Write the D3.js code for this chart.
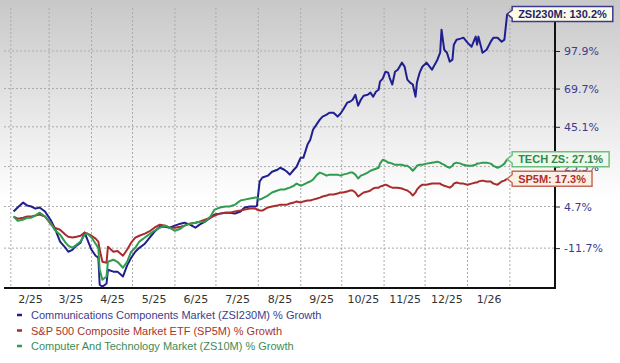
<!DOCTYPE html>
<html>
<head>
<meta charset="utf-8">
<script src="https://cdn.jsdelivr.net/npm/d3@7"></script>
<style>
body { margin: 0; background: #fff; }
svg { display: block; }
</style>
</head>
<body>
<svg width="620" height="363"></svg>
<script>
// dates of the plotted points
const dates = [
"2025-02-03","2025-02-06","2025-02-10","2025-02-13","2025-02-16","2025-02-19","2025-02-22","2025-02-26",
"2025-03-02","2025-03-05","2025-03-09","2025-03-13","2025-03-15","2025-03-18","2025-03-21","2025-03-24","2025-03-27","2025-03-29",
"2025-04-01","2025-04-04","2025-04-06","2025-04-07","2025-04-09","2025-04-12","2025-04-13","2025-04-17","2025-04-20","2025-04-24",
"2025-04-27","2025-04-30","2025-05-03","2025-05-06","2025-05-10","2025-05-14","2025-05-17","2025-05-21","2025-05-25","2025-05-28",
"2025-06-01","2025-06-05","2025-06-08","2025-06-12","2025-06-16","2025-06-19","2025-06-23","2025-06-27","2025-06-30","2025-07-04",
"2025-07-08","2025-07-11","2025-07-15","2025-07-19","2025-07-22","2025-07-26","2025-07-30","2025-07-31","2025-08-02","2025-08-04",
"2025-08-08","2025-08-11","2025-08-15","2025-08-17","2025-08-20","2025-08-22","2025-08-24","2025-08-27","2025-08-29","2025-09-01",
"2025-09-03","2025-09-06","2025-09-08","2025-09-10","2025-09-13","2025-09-15","2025-09-17","2025-09-20","2025-09-22","2025-09-25",
"2025-09-28","2025-09-30","2025-10-02","2025-10-05","2025-10-07","2025-10-09","2025-10-11","2025-10-13","2025-10-15","2025-10-17",
"2025-10-20","2025-10-22","2025-10-24","2025-10-26","2025-10-28","2025-10-29","2025-10-31","2025-11-02","2025-11-04","2025-11-05",
"2025-11-07","2025-11-09","2025-11-11","2025-11-14","2025-11-16","2025-11-18","2025-11-20","2025-11-22","2025-11-24","2025-11-25",
"2025-11-27","2025-11-29","2025-12-02","2025-12-06","2025-12-10","2025-12-12","2025-12-13","2025-12-15","2025-12-17","2025-12-19",
"2025-12-21","2025-12-22","2025-12-24","2025-12-27","2025-12-29","2026-01-01","2026-01-04","2026-01-07","2026-01-08","2026-01-09",
"2026-01-12","2026-01-15","2026-01-18","2026-01-20","2026-01-23","2026-01-26","2026-01-28","2026-01-30"
];

// % growth, Communications Components Market (ZSI230M)
const zsi230m = [
2.6,4.3,6.4,5.1,4.7,3.8,4.3,2.6,
-0.8,-4.0,-9.3,-11.6,-13.0,-12.3,-10.8,-9.7,-5.9,-8.6,
-12.3,-14.4,-15.1,-24.0,-24.6,-23.6,-19.2,-19.8,-19.8,-21.4,
-17.8,-15.1,-13.0,-11.6,-10.1,-7.5,-5.6,-3.6,-3.6,-4.0,
-3.2,-2.4,-2.0,-2.8,-4.0,-2.8,-1.6,0.0,1.3,1.7,
2.1,2.1,1.7,2.6,4.3,4.7,4.7,5.1,16.0,17.9,
18.8,20.7,21.7,22.7,21.7,20.7,19.3,21.7,23.2,27.9,
27.9,34.9,37.6,43.4,47.0,49.4,51.3,52.5,53.7,53.7,
51.3,53.1,55.6,60.2,60.8,62.1,65.5,58.2,62.1,64.8,
65.5,66.9,64.1,67.5,68.9,74.6,76.7,81.8,81.1,77.5,
72.5,81.8,83.3,88.7,85.6,76.0,73.9,72.5,64.1,73.9,
81.1,85.6,88.7,83.3,91.0,96.5,115.9,98.9,96.5,89.5,
91.0,103.1,107.3,108.2,109.0,104.8,101.4,109.9,103.1,109.9,
96.5,98.9,105.6,109.0,109.0,105.6,107.3,130.2
];

// % growth, S&P 500 Composite Market ETF (SP5M)
const sp5m = [
0.5,-0.4,0.0,0.5,0.5,0.9,1.3,0.5,
-2.4,-4.0,-4.8,-6.7,-7.5,-7.8,-7.5,-7.1,-5.9,-6.3,
-7.1,-8.2,-9.3,-12.3,-16.5,-16.8,-11.2,-13.0,-12.7,-14.4,
-12.3,-9.7,-7.8,-7.1,-6.3,-5.2,-4.0,-2.8,-3.2,-4.0,
-4.0,-3.6,-3.2,-2.4,-2.0,-1.6,-0.8,0.0,0.9,1.7,
2.1,2.1,2.6,3.0,3.4,3.8,3.8,3.4,3.0,3.0,
4.3,4.7,5.1,5.5,5.5,5.5,6.0,6.4,6.9,6.4,
6.9,7.3,7.3,7.7,8.2,8.6,9.1,9.5,10.0,10.0,
10.4,10.9,10.9,11.3,11.8,11.8,10.9,9.1,10.0,10.9,
11.3,11.8,12.7,13.1,13.1,13.6,14.0,14.5,14.0,13.6,
13.1,13.1,13.1,12.7,12.2,11.8,10.9,9.5,10.9,12.2,
13.6,14.5,14.5,15.0,15.0,15.0,14.5,14.0,13.6,13.1,
14.0,15.0,15.5,15.0,15.0,14.5,15.0,15.5,15.5,16.0,
16.4,16.0,16.0,15.0,14.5,16.0,16.4,17.3
];

// % growth, Computer And Technology Market (ZS10M)
const zs10m = [
0.5,-1.2,-0.8,0.0,0.0,0.9,2.1,0.5,
-2.0,-4.8,-6.7,-9.7,-10.8,-11.6,-10.5,-9.3,-6.7,-6.3,
-7.8,-10.1,-11.6,-19.2,-22.4,-21.4,-16.5,-15.8,-16.5,-18.5,
-16.5,-13.0,-11.6,-9.3,-7.8,-6.3,-5.2,-4.0,-3.2,-4.0,
-5.2,-4.4,-3.2,-2.4,-2.0,-1.6,-1.6,0.5,3.4,4.3,
4.7,4.7,5.5,7.3,7.7,8.2,8.6,8.6,7.7,8.2,
9.5,10.9,11.8,12.2,12.2,12.7,13.1,14.0,15.0,14.0,
14.5,15.5,16.0,16.9,19.3,20.3,19.8,18.8,19.3,19.3,
19.3,18.8,19.3,19.8,20.3,20.3,19.3,17.4,18.8,19.3,
20.3,21.2,21.7,22.2,22.7,24.8,26.8,26.3,25.3,25.3,
24.8,24.2,24.2,24.2,23.7,23.7,22.7,21.2,22.7,23.7,
24.2,24.2,24.8,25.3,25.8,25.3,24.8,24.2,23.2,22.7,
23.7,24.8,25.3,24.8,24.2,23.7,23.7,24.2,24.8,24.8,
25.3,25.3,24.8,23.7,22.7,23.7,24.8,27.1
];

const yTicks = [-11.7, 4.7, 23.3, 45.1, 69.7, 97.9];
const legendNames = [
    "Communications Components Market (ZSI230M) % Growth",
    "S&P 500 Composite Market ETF (SP5M) % Growth",
    "Computer And Technology Market (ZS10M) % Growth"
];
const tagNames = ["ZSI230M", "SP5M", "TECH ZS"];

const svg = d3.select("svg");
const W = 620, H = 363;
const plotL = 4, plotR = 555, plotT = 8, plotB = 288;

const lineColors = ["#1f1f8f", "#a82c2c", "#2f9c50"];
const textColors = ["#3d3d8c", "#a8332b", "#3d8c56"];
const tagText = ["#1f1f6e", "#b0302a", "#2f8a47"];
const tagFill = ["#fbfbe6", "#fcefe6", "#eef8ee"];
const tagStroke = ["#3a3a90", "#c46a5a", "#6cbf7c"];

const parse = d3.timeParse("%Y-%m-%d");
const dts = dates.map(parse);
const series = [zsi230m, sp5m, zs10m];

const x = d3.scaleTime()
    .domain([new Date(2025, 0, 27), new Date(2026, 2, 6)])
    .range([plotL, plotR]);

const y = d3.scaleLog()
    .domain([0.75, 2.36])
    .range([plotB, plotT]);

function yv(v) {
    return y(1 + v / 100);
}

// background
const grad = svg.append("defs").append("linearGradient")
    .attr("id", "bg").attr("x1", 0).attr("y1", 0).attr("x2", 0).attr("y2", 1);
grad.append("stop").attr("offset", "0").attr("stop-color", "#c8c8c8");
grad.append("stop").attr("offset", "0.55").attr("stop-color", "#ffffff");
svg.append("rect").attr("width", W).attr("height", H).attr("fill", "url(#bg)");

// grid
const months = d3.timeMonth.range(new Date(2025, 1, 1), new Date(2026, 1, 2));

svg.append("g")
    .selectAll("line")
    .data(months)
    .join("line")
    .attr("x1", d => x(d)).attr("x2", d => x(d))
    .attr("y1", plotT).attr("y2", plotB)
    .attr("stroke", "#ababab")
    .attr("stroke-dasharray", "2,2");

svg.append("g")
    .selectAll("line")
    .data(yTicks)
    .join("line")
    .attr("x1", plotL).attr("x2", plotR)
    .attr("y1", d => yv(d)).attr("y2", d => yv(d))
    .attr("stroke", "#ababab")
    .attr("stroke-dasharray", "2,2");

// axes
let mids = [];
for (let i = 0; i < months.length - 1; i++) {
    mids.push(new Date((+months[i] + +months[i + 1]) / 2));
}

const xAxis = svg.append("g")
    .attr("transform", "translate(0," + plotB + ")")
    .call(d3.axisBottom(x).tickValues(mids).tickSize(0).tickPadding(7)
        .tickFormat(d3.timeFormat("%-m/%y")));
xAxis.select(".domain").remove();
xAxis.selectAll("text")
    .attr("font-family", "DejaVu Sans")
    .attr("font-size", 11)
    .attr("fill", "#333");

const yAxis = svg.append("g")
    .attr("transform", "translate(" + plotR + ",0)")
    .call(d3.axisRight(y).tickValues(yTicks.map(v => 1 + v / 100)).tickSize(5).tickPadding(4)
        .tickFormat((d, i) => yTicks[i].toFixed(1) + "%"));
yAxis.select(".domain").remove();
yAxis.selectAll("line").attr("stroke", "#222");
yAxis.selectAll("text")
    .attr("font-family", "DejaVu Sans")
    .attr("font-size", 11)
    .attr("fill", "#3c3c8e");

svg.append("line")
    .attr("x1", plotL).attr("x2", plotR + 1)
    .attr("y1", plotB).attr("y2", plotB)
    .attr("stroke", "#111").attr("stroke-width", 2);

svg.append("line")
    .attr("x1", plotR).attr("x2", plotR)
    .attr("y1", plotT).attr("y2", plotB + 1)
    .attr("stroke", "#111").attr("stroke-width", 2);

// lines
const line = d3.line()
    .x((d, i) => x(dts[i]))
    .y(d => yv(d));

series.forEach(function(s, k) {
    svg.append("path")
        .datum(s)
        .attr("d", line)
        .attr("fill", "none")
        .attr("stroke", lineColors[k])
        .attr("stroke-width", 2)
        .attr("stroke-linejoin", "round");
});

// end tags (the TECH tag covers the 23.3% tick, as in the original)
series.forEach(function(s, k) {
    const last = s[s.length - 1];
    const tx = x(dts[dts.length - 1]);
    const label = tagNames[k] + ": " + last.toFixed(1) + "%";

    const g = svg.append("g");
    const t = g.append("text")
        .attr("font-family", "Liberation Sans")
        .attr("font-weight", "bold")
        .attr("font-size", 11)
        .attr("fill", tagText[k])
        .text(label);

    const w = t.node().getComputedTextLength() + 12;
    const h = 15;
    let cy = yv(last);
    if (cy - h / 2 < 2) cy = 2 + h / 2;
    const x0 = tx + 5;

    g.insert("path", "text")
        .attr("d", "M" + tx + "," + cy +
            "L" + x0 + "," + (cy - 4) +
            "L" + x0 + "," + (cy - h / 2) +
            "L" + (x0 + w) + "," + (cy - h / 2) +
            "L" + (x0 + w) + "," + (cy + h / 2) +
            "L" + x0 + "," + (cy + h / 2) +
            "L" + x0 + "," + (cy + 4) + "Z")
        .attr("fill", tagFill[k])
        .attr("stroke", tagStroke[k])
        .attr("stroke-width", 1.5);

    t.attr("x", x0 + 6).attr("y", cy + 4);
});

// legend
legendNames.forEach(function(name, k) {
    const by = 319 + k * 15.5;
    svg.append("line")
        .attr("x1", 17).attr("x2", 22)
        .attr("y1", by - 4).attr("y2", by - 4)
        .attr("stroke", lineColors[k])
        .attr("stroke-width", 2.5);
    svg.append("text")
        .attr("x", 31).attr("y", by)
        .attr("font-family", "Liberation Sans")
        .attr("font-size", 11)
        .attr("fill", textColors[k])
        .text(name);
});
</script>
</body>
</html>
